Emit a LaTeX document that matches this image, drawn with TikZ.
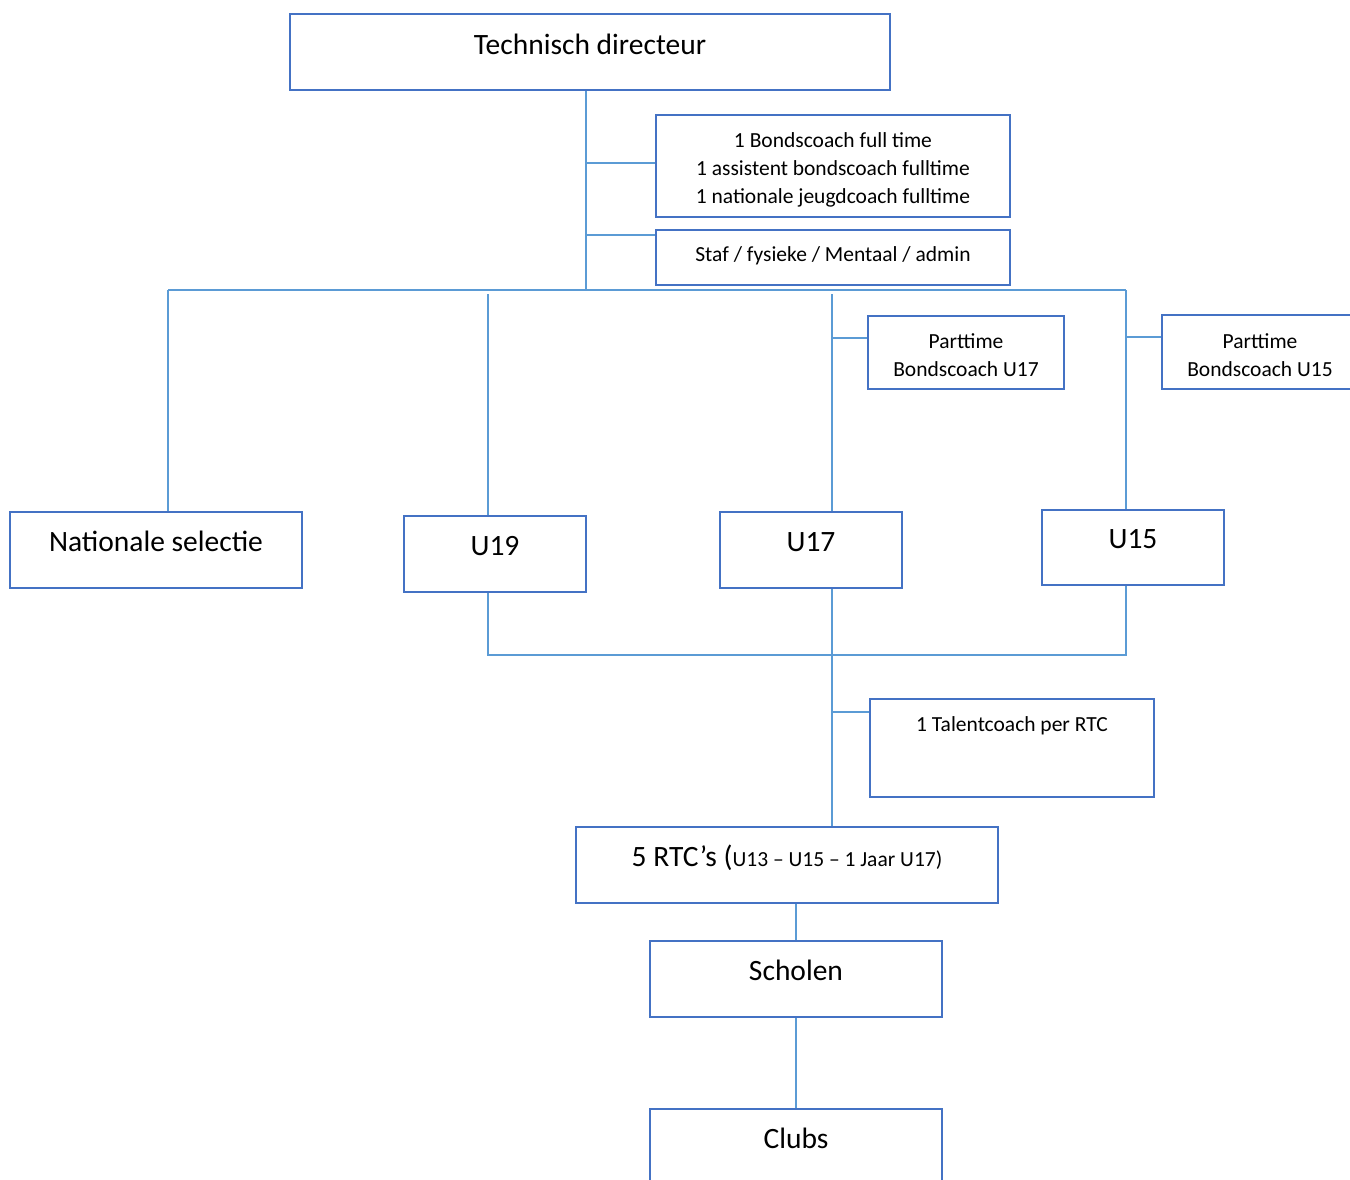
\documentclass[tikz,border=0pt]{standalone}
\usepackage{fontspec}
\setmainfont{Carlito}
\usepackage{tikz}
\usetikzlibrary{calc}
\usepackage{xcolor}
\definecolor{boxblue}{HTML}{4472C4}
\definecolor{lineblue}{HTML}{5B9BD5}

\begin{document}
\begin{tikzpicture}[
  x=1pt, y=-1pt,
  box/.style={draw=boxblue, line width=2.6pt, align=center, inner sep=0pt,
    font=\fontsize{29.5}{34}\selectfont, text height=18pt, text depth=16pt},
  smallbox/.style={draw=boxblue, line width=2.6pt, align=center, inner sep=0pt,
    font=\fontsize{21.5}{28}\selectfont},
  link/.style={draw=lineblue, line width=1.6pt}
]
\clip (0,0) rectangle (1350,1180);

\node[box, minimum width=600pt, minimum height=76pt, text depth=12pt] (td) at (590,52) {Technisch directeur};
\node[smallbox, minimum width=354pt, minimum height=102pt, text height=80.6pt, text depth=5pt] (bonds) at (833,166)
  {1 Bondscoach full time\\1 assistent bondscoach fulltime\\1 nationale jeugdcoach fulltime};
\node[smallbox, minimum width=354pt, minimum height=55pt, text height=20pt, text depth=11.4pt] (staf) at (833,257.5)
  {Staf / fysieke / Mentaal / admin};

% Teams
\node[box, minimum width=292pt, minimum height=76pt] (nat) at (156,550) {Nationale selectie};
\node[box, minimum width=182pt, minimum height=76pt] (u19) at (495,554) {U19};
\node[box, minimum width=182pt, minimum height=76pt] (u17) at (811,550) {U17};
\node[box, minimum width=182pt, minimum height=75pt] (u15) at (1133,547.5) {U15};

\node[smallbox, minimum width=196pt, minimum height=73pt, text height=53.6pt, text depth=5pt] (pt17) at (966,352.5)
  {Parttime\\Bondscoach U17};
\node[smallbox, minimum width=196pt, minimum height=74pt, text height=54.6pt, text depth=5pt] (pt15) at (1260,352)
  {Parttime\\Bondscoach U15};

% Regional level
\node[smallbox, minimum width=284pt, minimum height=98pt, text height=18pt, text depth=50.4pt] (talent) at (1012,748)
  {1 Talentcoach per RTC};
\node[box, minimum width=422pt, minimum height=76pt] (rtc) at (787,865)
  {5 RTC’s ({\fontsize{21.5}{28}\selectfont U13 – U15 – 1 Jaar U17)}};
\node[box, minimum width=292pt, minimum height=76pt] (scholen) at (796,979) {Scholen};
\node[box, minimum width=292pt, minimum height=76pt] (clubs) at (796,1147) {Clubs};

\coordinate (trunk) at (586,290);
\coordinate (barL) at (168,290);
\coordinate (barR) at (1126,290);
\coordinate (b19) at (488,294);
\coordinate (b17) at (832,294);
\coordinate (lowL) at (488,655);
\coordinate (lowR) at (1126,655);

\draw[link] (td.south -| trunk) -- (trunk);
\draw[link] ([yshift=3pt]bonds.west -| trunk) -- ([yshift=3pt]bonds.west);
\draw[link] ([yshift=22.5pt]staf.west -| trunk) -- ([yshift=22.5pt]staf.west);
\draw[link] (barL) -- (barR);

\draw[link] (barL) -- (nat.north -| barL);
\draw[link] (b19) -- (u19.north -| b19);
\draw[link] (b17) -- (u17.north -| b17);
\draw[link] (barR) -- (u15.north -| barR);
\draw[link] ([yshift=14.5pt]pt17.west -| b17) -- ([yshift=14.5pt]pt17.west);
\draw[link] ([yshift=15pt]pt15.west -| barR) -- ([yshift=15pt]pt15.west);

\draw[link] (u19.south -| lowL) -- (lowL) -- (lowR) -- (u15.south -| lowR);
\draw[link] (u17.south -| b17) -- (rtc.north -| b17);
\draw[link] ([yshift=36pt]talent.west -| b17) -- ([yshift=36pt]talent.west);

\draw[link] (rtc.south -| scholen) -- (scholen.north);
\draw[link] (scholen.south) -- (clubs.north);

\end{tikzpicture}
\end{document}
